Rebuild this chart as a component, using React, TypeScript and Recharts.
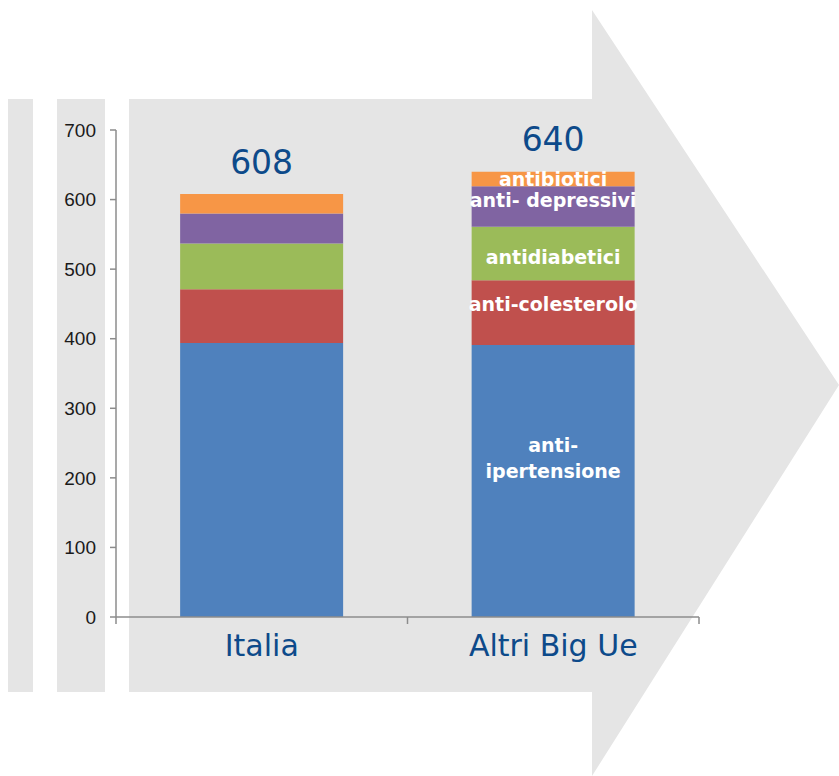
import { BarChart, Bar, XAxis, YAxis, LabelList } from "recharts";

const categories = ["Italia", "Altri Big Ue"];
const antiIpertensione = [394, 391];
const antiColesterolo = [77, 93];
const antidiabetici = [66, 77];
const antiDepressivi = [43, 58];
const antibiotici = [28, 21];
const totals = [608, 640];
const yTicks = [0, 100, 200, 300, 400, 500, 600, 700];

const data = categories.map((name, i) => ({
  name,
  ipert: antiIpertensione[i],
  coles: antiColesterolo[i],
  diab: antidiabetici[i],
  depr: antiDepressivi[i],
  antib: antibiotici[i],
  total: totals[i],
}));

const BLUE_TEXT = "#0d4a8a";
const AXIS_GREY = "#8c8c8c";
const TICK_MARGIN = 13;

// category label plus Excel-style tick marks at the band edges
const CatTick = (props: any) => {
  const { x, y, payload, index, visibleTicksCount, width } = props;
  const half = payload.offset ?? width / visibleTicksCount / 2;
  const axisY = y - TICK_MARGIN;
  return (
    <g>
      <line x1={x - half} x2={x - half} y1={axisY} y2={axisY + 7} stroke={AXIS_GREY} strokeWidth={1.5} />
      {index === visibleTicksCount - 1 && (
        <line x1={x + half} x2={x + half} y1={axisY} y2={axisY + 7} stroke={AXIS_GREY} strokeWidth={1.5} />
      )}
      <text
        x={x}
        y={y}
        dy="0.85em"
        textAnchor="middle"
        fill={BLUE_TEXT}
        fontSize={30}
        fontFamily="DejaVu Sans, Verdana, sans-serif"
      >
        {payload.value}
      </text>
    </g>
  );
};

// segment labels appear only on the second bar
const segLabel = (lines: string[], dy: number) => (props: any) => {
  const { x, y, width, height, index } = props;
  if (index !== 1) return null;
  const cx = x + width / 2;
  const cy = y + height / 2 + dy;
  const lh = 26;
  const start = cy - ((lines.length - 1) * lh) / 2;
  return (
    <text
      x={cx}
      y={start}
      textAnchor="middle"
      dominantBaseline="central"
      fill="#fff"
      fontFamily="DejaVu Sans, Verdana, sans-serif"
      fontWeight="bold"
      fontSize={19}
    >
      {lines.map((l, k) => (
        <tspan key={k} x={cx} y={start + k * lh}>
          {l}
        </tspan>
      ))}
    </text>
  );
};

const totalLabel = (props: any) => {
  const { x, y, width, value } = props;
  return (
    <text
      x={x + width / 2}
      y={y - 32}
      textAnchor="middle"
      dominantBaseline="central"
      fill={BLUE_TEXT}
      fontFamily="DejaVu Sans, Verdana, sans-serif"
      fontSize={33}
    >
      {value}
    </text>
  );
};

export default function App() {
  return (
    <div style={{ position: "absolute", left: 0, top: 0, width: 839, height: 776, background: "#fff" }}>
      <svg width={839} height={776} style={{ position: "absolute", left: 0, top: 0 }}>
        <rect x={8} y={99} width={25} height={593} fill="#e5e5e5" />
        <rect x={57} y={99} width={48} height={593} fill="#e5e5e5" />
        <polygon
          points="129,99 592,99 592,10 839,385 592,776 592,692 129,692"
          fill="#e5e5e5"
        />
      </svg>
      <div style={{ position: "absolute", left: 0, top: 0 }}>
        <BarChart
          width={839}
          height={776}
          data={data}
          margin={{ top: 130, right: 140, bottom: 99, left: 56 }}
          barCategoryGap="22%"
        >
          <XAxis
            dataKey="name"
            axisLine={{ stroke: AXIS_GREY, strokeWidth: 1.5 }}
            tickLine={false}
            tickSize={0}
            tickMargin={TICK_MARGIN}
            interval={0}
            tick={<CatTick />}
            height={60}
          />
          <YAxis
            domain={[0, 700]}
            ticks={yTicks}
            width={60}
            axisLine={{ stroke: AXIS_GREY, strokeWidth: 1.5 }}
            tickLine={{ stroke: AXIS_GREY, strokeWidth: 1.5 }}
            tickSize={6}
            tickMargin={14}
            tick={{ fill: "#1a1a1a", fontSize: 19, fontFamily: "Liberation Sans, Arial, sans-serif" }}
          />
          <Bar dataKey="ipert" stackId="a" fill="#4f81bd" isAnimationActive={false}>
            <LabelList dataKey="ipert" content={segLabel(["anti-", "ipertensione"], -23)} />
          </Bar>
          <Bar dataKey="coles" stackId="a" fill="#c0504d" isAnimationActive={false}>
            <LabelList dataKey="coles" content={segLabel(["anti-colesterolo"], -9)} />
          </Bar>
          <Bar dataKey="diab" stackId="a" fill="#9bbb59" isAnimationActive={false}>
            <LabelList dataKey="diab" content={segLabel(["antidiabetici"], 4)} />
          </Bar>
          <Bar dataKey="depr" stackId="a" fill="#8064a2" isAnimationActive={false}>
            <LabelList dataKey="depr" content={segLabel(["anti- depressivi"], -7)} />
          </Bar>
          <Bar dataKey="antib" stackId="a" fill="#f79646" isAnimationActive={false}>
            <LabelList dataKey="antib" content={segLabel(["antibiotici"], 0)} />
            <LabelList dataKey="total" content={totalLabel} />
          </Bar>
        </BarChart>
      </div>
    </div>
  );
}
